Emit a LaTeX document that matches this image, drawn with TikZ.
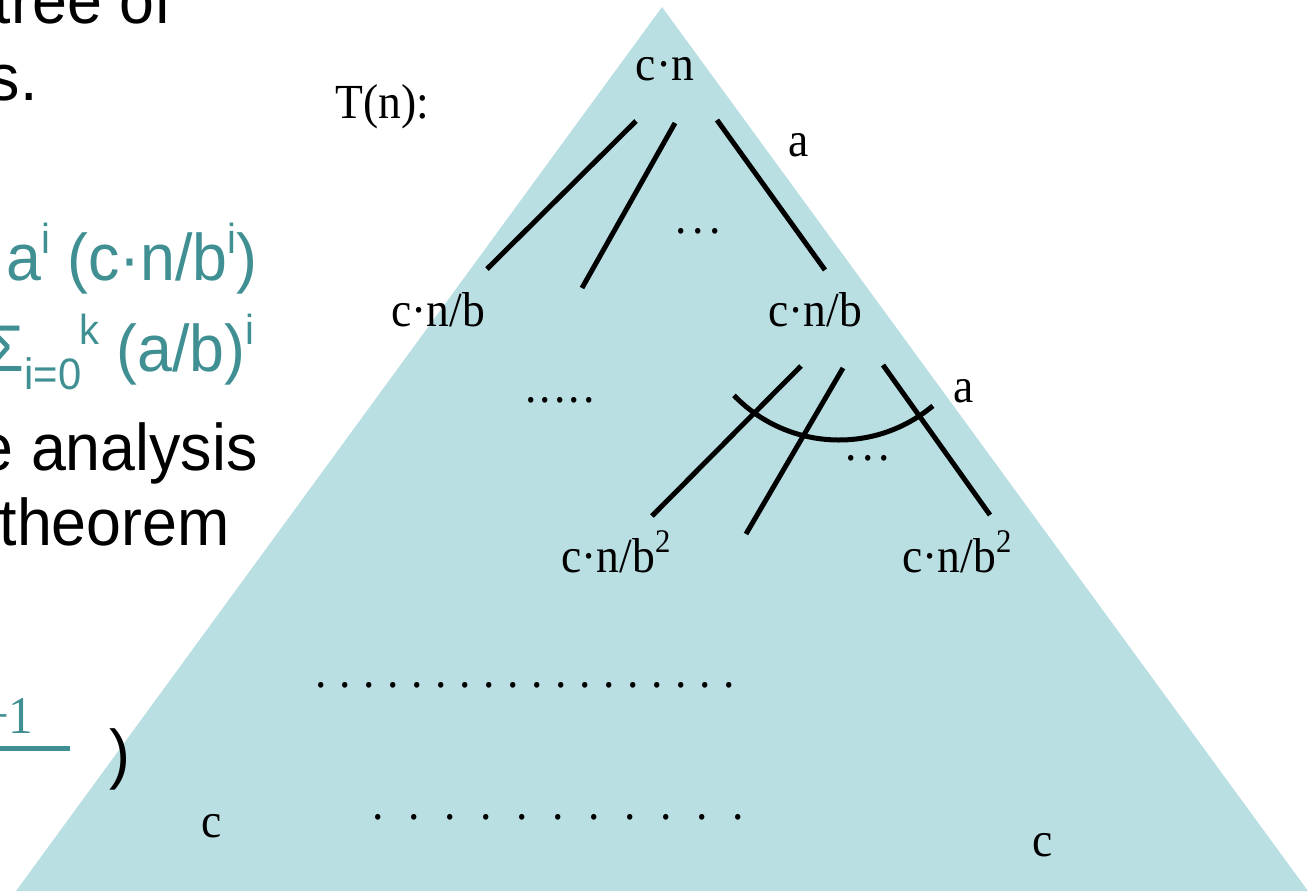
\documentclass[tikz,border=0pt]{standalone}
\usepackage{fontspec}
\setmainfont{Liberation Serif}[FakeStretch=0.93]
\newfontfamily\arialf{Liberation Sans}[FakeStretch=0.95]
\definecolor{tricol}{HTML}{BADFE3}
\definecolor{tealtxt}{HTML}{3F8F93}
\newcommand\dotrow[2]{\foreach \k in {1,...,#1}{\makebox[#2]{.}}}
\newcommand\Sup[1]{\raisebox{0.40em}{\fontsize{21}{21}\selectfont #1}}
\newcommand\Sub[1]{\raisebox{-0.28em}{\fontsize{22}{22}\selectfont #1}}
\newcommand\SupS[1]{\raisebox{0.40em}{\fontsize{16.5}{16.5}\selectfont #1}}
\begin{document}
\begin{tikzpicture}[x=0.5pt,y=-0.5pt,
  lbl/.style={font=\fontsize{24.5}{24.5}\selectfont, inner sep=0pt, anchor=base},
  sanstxt/.style={font=\arialf\fontsize{33}{33}\selectfont, inner sep=0pt, anchor=base east},
  tealsans/.style={sanstxt, text=tealtxt},
  treeedge/.style={line width=2.5pt},
  dotsnode/.style={lbl}]
\useasboundingbox (0,0) rectangle (1308,891);
\clip (0,0) rectangle (1308,891);
% triangle
\fill[tricol] (662,7) -- (16,891) -- (1308,891) -- cycle;

% left text (cut off slide)
\node[sanstxt] (t1) at (172,23) {tree of};
\node[sanstxt] (t2) at (38,100) {s.};
\node[tealsans] (t3) at (258,280) {a\Sup{i} (c·n/b\Sup{i})};
\node[tealsans] (t4) at (255,371) {Σ\Sub{i=0}\kern-1pt\Sup{k} (a/b)\Sup{i}};
\node[sanstxt] (t5) at (258,470) {e analysis};
\node[sanstxt] (t6) at (230,545) {theorem};
\node[lbl, anchor=base east, text=tealtxt, font=\fontsize{26.5}{26.5}\selectfont] (frnum) at (34,733) {−1};
\fill[tealtxt] (-5,746) rectangle (70,751);
\node[sanstxt, anchor=center] (paren) at (120,759) {)};

% labels
\node[lbl, anchor=base west] (T) at (335,118) {T(n):};
\node[lbl] (root) at (665,80) {c·n};
\node[lbl] (a1) at (799,156) {a};
\node[lbl] (L1) at (438,326) {c·n/b};
\node[lbl] (R1) at (815,326) {c·n/b};
\node[lbl] (a2) at (964,402) {a};
\node[lbl] (L2) at (616,572) {c·n/b\SupS{2}};
\node[lbl] (R2) at (957,572) {c·n/b\SupS{2}};
\node[lbl] (cl) at (212,837) {c};
\node[lbl] (cr) at (1043,856) {c};

% dots
\node[dotsnode] (d1) at (698,233) {\dotrow{3}{8.5pt}};
\node[dotsnode] (d2) at (560,402) {\dotrow{5}{7.25pt}};
\node[dotsnode] (d3) at (868,460) {\dotrow{3}{8.3pt}};
\node[dotsnode] (d4) at (525,687) {\dotrow{18}{12pt}};
\node[dotsnode] (d5) at (558,819) {\dotrow{11}{18pt}};

% tree edges, level 1
\coordinate (e1a) at (636,121); \coordinate (e1b) at (487,269);
\coordinate (e2a) at (675,123); \coordinate (e2b) at (582,288);
\coordinate (e3a) at (717,120); \coordinate (e3b) at (825,270);
\draw[treeedge] (e1a) -- (e1b);
\draw[treeedge] (e2a) -- (e2b);
\draw[treeedge] (e3a) -- (e3b);
% level 2
\coordinate (f1a) at (801,366); \coordinate (f1b) at (652,516);
\coordinate (f2a) at (843,368); \coordinate (f2b) at (746,534);
\coordinate (f3a) at (883,365); \coordinate (f3b) at (990,515);
\draw[treeedge] (f1a) -- (f1b);
\draw[treeedge] (f2a) -- (f2b);
\draw[treeedge] (f3a) -- (f3b);
% arc
\coordinate (arcc) at (839,294);
\draw[treeedge] ([shift={(136:146)}]arcc) arc[start angle=136, end angle=50, radius=146];
\end{tikzpicture}
\end{document}
